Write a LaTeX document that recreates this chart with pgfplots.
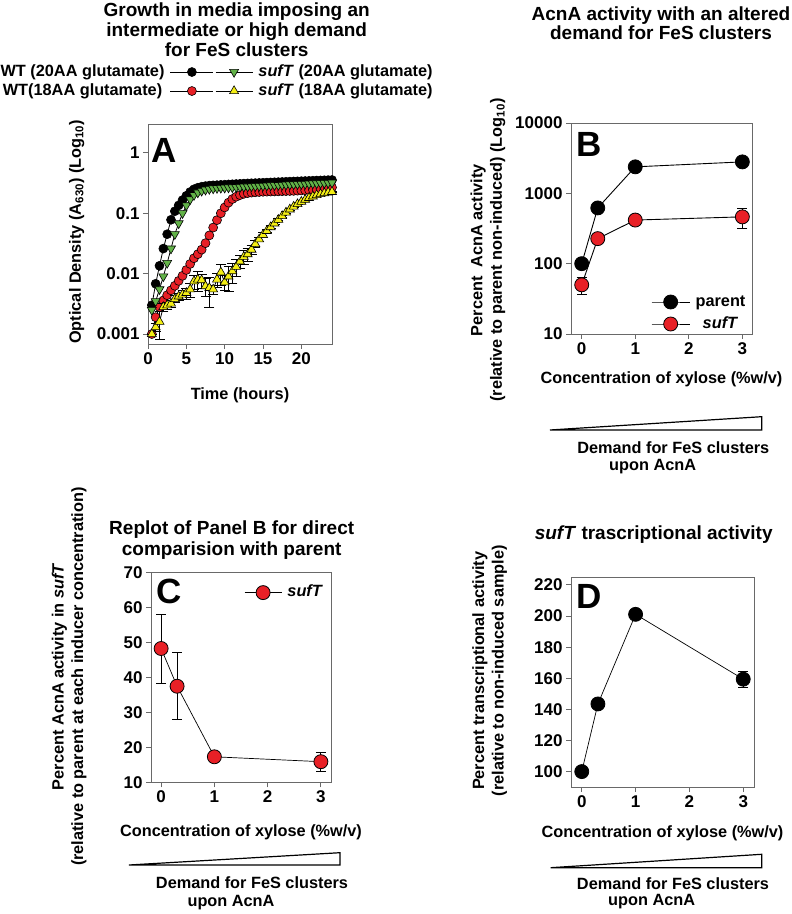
\documentclass[border=0pt]{standalone}
\usepackage{fontspec}
\setmainfont{Liberation Sans}
\usepackage{pgfplots}
\usepackage{pgfplotstable}
\pgfplotsset{compat=1.18}
\definecolor{myred}{RGB}{232,32,38}
\definecolor{mygreen}{RGB}{98,178,72}
\definecolor{myyellow}{RGB}{244,238,20}
\definecolor{axgray}{RGB}{105,105,105}

\pgfplotstableread{
t v
0.5 0.003
1.0 0.0068
1.5 0.0135
2.0 0.026
2.5 0.045
3.0 0.078
3.5 0.108
4.0 0.135
4.5 0.165
5.0 0.195
5.5 0.225
6.0 0.25
6.5 0.265
7.0 0.275
7.5 0.282
8.0 0.287
8.5 0.29
9.0 0.292
9.5 0.295
10.0 0.297
10.5 0.30
11.0 0.302
11.5 0.305
12.0 0.307
12.5 0.31
13.0 0.312
13.5 0.314
14.0 0.316
14.5 0.318
15.0 0.32
15.5 0.322
16.0 0.324
16.5 0.326
17.0 0.328
17.5 0.33
18.0 0.332
18.5 0.334
19.0 0.336
19.5 0.338
20.0 0.34
20.5 0.342
21.0 0.344
21.5 0.346
22.0 0.348
22.5 0.35
23.0 0.352
23.5 0.354
24.0 0.356
}\wtTwenty

\pgfplotstableread{
t v
0.5 0.001
1.0 0.0019
1.5 0.0028
2.0 0.0036
2.5 0.0044
3.0 0.0053
3.5 0.0063
4.0 0.0076
4.5 0.0092
5.0 0.0115
5.5 0.0145
6.0 0.018
6.5 0.021
7.0 0.025
7.5 0.032
8.0 0.043
8.5 0.058
9.0 0.077
9.5 0.10
10.0 0.125
10.5 0.15
11.0 0.172
11.5 0.188
12.0 0.20
12.5 0.21
13.0 0.216
13.5 0.22
14.0 0.223
14.5 0.225
15.0 0.227
15.5 0.228
16.0 0.229
16.5 0.23
17.0 0.231
17.5 0.232
18.0 0.233
18.5 0.234
19.0 0.235
19.5 0.237
20.0 0.239
20.5 0.241
21.0 0.243
21.5 0.246
22.0 0.249
22.5 0.253
23.0 0.258
23.5 0.263
24.0 0.268
}\wtEighteen

\pgfplotstableread{
t v
0.5 0.0025
1.0 0.0035
1.5 0.0055
2.0 0.009
2.5 0.015
3.0 0.026
3.5 0.045
4.0 0.068
4.5 0.10
5.0 0.135
5.5 0.17
6.0 0.20
6.5 0.22
7.0 0.235
7.5 0.245
8.0 0.252
8.5 0.257
9.0 0.261
9.5 0.263
10.0 0.265
10.5 0.267
11.0 0.269
11.5 0.271
12.0 0.273
12.5 0.275
13.0 0.277
13.5 0.279
14.0 0.281
14.5 0.283
15.0 0.285
15.5 0.287
16.0 0.289
16.5 0.291
17.0 0.293
17.5 0.295
18.0 0.297
18.5 0.299
19.0 0.301
19.5 0.303
20.0 0.305
20.5 0.307
21.0 0.309
21.5 0.311
22.0 0.313
22.5 0.315
23.0 0.317
23.5 0.319
24.0 0.321
}\sufTwenty

\pgfplotstableread{
t v e
0.5 0.001 0
1.0 0.0013 0.0002
1.5 0.0016 0.0008
2.0 0.0028 0.0004
2.5 0.003 0.0004
3.0 0.0032 0.0004
3.5 0.0038 0.0005
4.0 0.0042 0.0006
4.5 0.0045 0.0008
5.0 0.0048 0.001
5.5 0.0055 0.0015
6.0 0.0075 0.002
6.5 0.008 0.003
7.0 0.0078 0.002
7.5 0.0062 0.002
8.0 0.0058 0.003
8.5 0.0055 0.001
9.0 0.008 0.002
9.5 0.0105 0.004
10.0 0.0072 0.002
10.5 0.009 0.004
11.0 0.011 0.004
11.5 0.013 0.004
12.0 0.016 0.004
12.5 0.019 0.005
13.0 0.021 0.005
13.5 0.025 0.004
14.0 0.031 0.004
14.5 0.037 0.003
15.0 0.044 0.004
15.5 0.051 0.003
16.0 0.059 0.003
16.5 0.068 0.003
17.0 0.078 0.003
17.5 0.09 0.003
18.0 0.103 0.003
18.5 0.116 0.003
19.0 0.129 0.003
19.5 0.142 0.003
20.0 0.155 0.003
20.5 0.168 0.003
21.0 0.18 0.003
21.5 0.19 0.003
22.0 0.20 0.003
22.5 0.208 0.003
23.0 0.215 0.003
23.5 0.221 0.003
24.0 0.226 0.003
}\sufEighteen

\pgfplotsset{
 panel/.style={
  scale only axis, anchor=south west, clip=false,
  axis line style={draw=axgray, line width=0.9pt},
  tick style={draw=axgray, line width=0.9pt},
  tick align=outside, xtick pos=bottom, ytick pos=left,
  major tick length=5pt,
  tick label style={font=\fontsize{17}{19}\selectfont\bfseries},
  label style={font=\fontsize{16.3}{19.5}\selectfont\bfseries},
  legend style={draw=none, fill=none, inner sep=0pt,
    font=\fontsize{16.3}{18}\selectfont\bfseries,
    nodes={inner sep=1.5pt, text height=11.5pt, text depth=3.5pt},
    column sep=4pt},
  /pgf/number format/assume math mode=true,
 },
 ebar/.style={error bars/.cd, y dir=both, y explicit,
   error bar style={black, line width=0.8pt},
   error mark options={rotate=90, mark size=5pt, line width=0.8pt, black}},
}

\begin{document}
\begin{tikzpicture}
\useasboundingbox (0,0) rectangle (792pt,914pt);

% ---------------- Panel A ----------------
\begin{axis}[panel, at={(148pt,570pt)}, width=184pt, height=220pt,
  xmin=0, xmax=24, ymode=log, ymin=0.000684, ymax=3.01,
  xtick={0,5,10,15,20}, ytick={0.001,0.01,0.1,1},
  yticklabels={0.001,0.01,0.1,1}, yminorticks=false,
  xlabel={Time (hours)},
  ylabel={Optical Density (A\textsubscript{630}) (Log\textsubscript{10})},
  xlabel style={at={(axis description cs:0.5,0)}, anchor=center, yshift=-51pt},
  ylabel style={at={(axis description cs:-0.3875,0.51)}, anchor=center},
  legend plot pos=right,
  legend style={at={(axis description cs:0.3587,1.193)}, anchor=east, row sep=1pt},
  legend image code/.code={\draw[mark repeat=2,mark phase=2] plot coordinates {(0pt,0pt) (21.5pt,0pt) (43pt,0pt)};}]
\addplot[black, line width=0.8pt, mark=*, mark size=4.5pt, mark options={fill=black, line width=0.6pt}] table[x=t,y=v] {\wtTwenty};
\addlegendentry{WT (20AA glutamate)}
\addplot[black, line width=0.8pt, mark=*, mark size=4.5pt, mark options={fill=myred, line width=0.6pt}] table[x=t,y=v] {\wtEighteen};
\addlegendentry{WT(18AA glutamate)}
\end{axis}

\begin{axis}[panel, at={(148pt,570pt)}, width=184pt, height=220pt,
  xmin=0, xmax=24, ymode=log, ymin=0.000684, ymax=3.01,
  hide axis,
  legend plot pos=left,
  legend style={at={(axis description cs:0.364,1.193)}, anchor=west, row sep=1pt},
  legend image code/.code={\draw[mark repeat=2,mark phase=2] plot coordinates {(0pt,0pt) (18.5pt,0pt) (37pt,0pt)};}]
\addplot[black, line width=0.8pt, mark=triangle*, mark size=5.2pt, mark options={fill=mygreen, rotate=180, line width=0.6pt}] table[x=t,y=v] {\sufTwenty};
\addlegendentry{\textit{sufT} (20AA glutamate)}
\addplot[black, line width=0.8pt, mark=triangle*, mark size=5.2pt, mark options={fill=myyellow, line width=0.6pt}, ebar] table[x=t,y=v,y error=e] {\sufEighteen};
\addlegendentry{\textit{sufT} (18AA glutamate)}
\end{axis}

% ---------------- Panel B ----------------
\begin{axis}[panel, at={(571pt,580pt)}, width=181pt, height=211pt,
  xmin=-0.2, xmax=3.18, ymode=log, ymin=10, ymax=10000,
  xtick={0,1,2,3}, ytick={10,100,1000,10000}, yticklabels={10,100,1000,10000}, yminorticks=false,
  xlabel={Concentration of xylose (\%w/v)},
  ylabel={Percent\ \ AcnA activity\\(relative to parent non-induced) (Log\textsubscript{10})},
  xlabel style={at={(axis description cs:0.5,0)}, anchor=center, yshift=-45pt},
  ylabel style={align=center, at={(axis description cs:-0.4586,0.398)}, anchor=center},
  legend style={at={(axis description cs:0.442,0.0995)}, anchor=west, row sep=4pt},
  legend image code/.code={\draw[mark repeat=2,mark phase=2] plot coordinates {(0pt,0pt) (19pt,0pt) (38pt,0pt)};}]
\addplot[black, line width=0.9pt, mark=*, mark size=7pt, mark options={fill=black, line width=0.8pt}]
  coordinates {(0,100) (0.3,620) (1,2380) (3,2800)};
\addlegendentry{parent}
\addplot[black, line width=0.9pt, mark=*, mark size=7pt, mark options={fill=myred, line width=0.8pt}, ebar]
  coordinates {(0,50) +- (0,13) (0.3,227) +- (0,0) (1,417) +- (0,0) (3,463) +- (0,150)};
\addlegendentry{\textit{sufT}}
\end{axis}

% ---------------- Panel C ----------------
\begin{axis}[panel, at={(151pt,131.7pt)}, width=180pt, height=209.6pt,
  xmin=-0.19, xmax=3.19, ymin=10, ymax=70,
  xtick={0,1,2,3}, ytick={10,20,30,40,50,60,70},
  xlabel={Concentration of xylose (\%w/v)},
  ylabel={Percent AcnA activity in \textit{sufT}\\(relative to parent at each inducer concentration)},
  xlabel style={at={(axis description cs:0.5,0)}, anchor=center, yshift=-50pt},
  ylabel style={align=center, at={(axis description cs:-0.454,0.504)}, anchor=center},
  legend style={at={(axis description cs:0.517,0.905)}, anchor=west},
  legend image code/.code={\draw[mark repeat=2,mark phase=2] plot coordinates {(0pt,0pt) (18.5pt,0pt) (37pt,0pt)};}]
\addplot[black, line width=0.7pt, mark=*, mark size=7pt, mark options={fill=myred, line width=0.8pt}, ebar]
  coordinates {(0,48.3) +- (0,9.9) (0.3,37.5) +- (0,9.6) (1,17.3) +- (0,1) (3,15.9) +- (0,2.7)};
\addlegendentry{\textit{sufT}}
\end{axis}

% ---------------- Panel D ----------------
\begin{axis}[panel, at={(571pt,127pt)}, width=183pt, height=210pt,
  xmin=-0.2, xmax=3.2, ymin=90.1, ymax=225.1,
  xtick={0,1,2,3}, ytick={100,120,140,160,180,200,220},
  xlabel={Concentration of xylose (\%w/v)},
  ylabel={Percent transcriptional activity\\(relative to non-induced sample)},
  xlabel style={at={(axis description cs:0.5,0)}, anchor=center, yshift=-46.3pt},
  ylabel style={align=center, at={(axis description cs:-0.444,0.553)}, anchor=center}]
\addplot[black, line width=0.7pt, mark=*, mark size=7pt, mark options={fill=black, line width=0.8pt}, ebar]
  coordinates {(0,100) +- (0,0) (0.3,143.5) +- (0,0) (1,201.1) +- (0,0) (3,159.4) +- (0,5)};
\end{axis}

% ---------------- Titles ----------------
\begin{scope}[every node/.style={font=\fontsize{19}{20}\selectfont\bfseries, anchor=base, inner sep=0pt}]
\node at (236.7pt,897.3pt) {Growth in media imposing an};
\node at (236.7pt,877.3pt) {intermediate or high demand};
\node at (236.7pt,857.3pt) {for FeS clusters};
\node at (661pt,893.3pt) {AcnA activity with an altered};
\node at (661pt,874pt) {demand for FeS clusters};
\node at (231.7pt,379pt) {Replot of Panel B for direct};
\node at (231.7pt,358pt) {comparision with parent};
\node at (653.7pt,374.7pt) {\textit{sufT} trascriptional activity};
\end{scope}

% ---------------- Panel letters ----------------
\begin{scope}[every node/.style={font=\fontsize{35}{35}\selectfont\bfseries, anchor=base west, inner sep=0pt}]
\node at (151.7pt,751pt) {A};
\node at (576.7pt,757.3pt) {B};
\node at (156.7pt,310.7pt) {C};
\node at (576pt,305.7pt) {D};
\end{scope}

% ---------------- Demand wedges ----------------
\begin{scope}[line width=1.2pt, line join=miter]
\draw[fill=white] (550pt,484pt) -- (761.7pt,484pt) -- (761.7pt,497.3pt) -- cycle;
\draw[fill=white] (129pt,49pt) -- (340pt,49pt) -- (340pt,61.3pt) -- cycle;
\draw[fill=white] (550.7pt,46.3pt) -- (761.7pt,46.3pt) -- (761.7pt,59.7pt) -- cycle;
\end{scope}
\begin{scope}[every node/.style={font=\fontsize{16.3}{18}\selectfont\bfseries, anchor=base, inner sep=0pt}]
\node at (673.3pt,460.3pt) {Demand for FeS clusters};
\node at (652.7pt,443.3pt) {upon AcnA};
\node at (252pt,25.6pt) {Demand for FeS clusters};
\node at (231pt,7.3pt) {upon AcnA};
\node at (673pt,24.3pt) {Demand for FeS clusters};
\node at (651.7pt,8.3pt) {upon AcnA};
\end{scope}
\end{tikzpicture}
\end{document}
